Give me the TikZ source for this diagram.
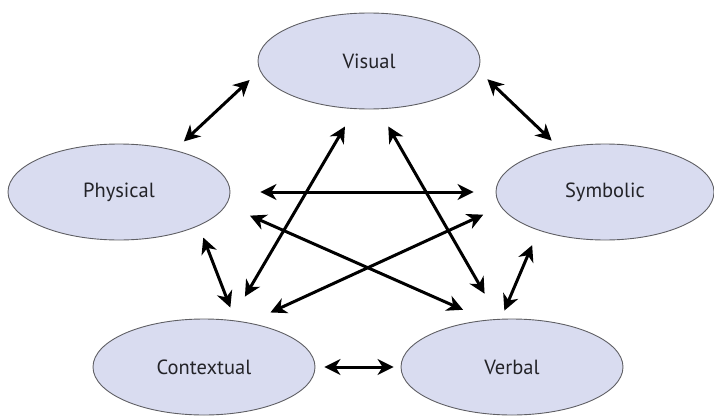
\documentclass[tikz,border=0pt]{standalone}
\usepackage{fontspec}
\setmainfont{PT Sans}
\usetikzlibrary{shapes.geometric, arrows.meta}
\definecolor{OvalFill}{RGB}{217,220,240}
\definecolor{OvalLine}{RGB}{95,95,100}
\definecolor{TextGray}{RGB}{35,35,40}

\begin{document}
\begin{tikzpicture}[x=1pt, y=1pt,
OvalStyle/.style={ellipse, draw=OvalLine, line width=0.9pt, fill=OvalFill,
                minimum width=222pt, minimum height=96pt, inner sep=0pt,
                text=TextGray, font=\fontsize{20.5}{24}\selectfont},
LinkStyle/.style={line width=3pt,
                {Stealth[length=16pt, width=16pt, inset=5pt]}-{Stealth[length=16pt, width=16pt, inset=5pt]}},]
\useasboundingbox (0,0) rectangle (714,416);
\node [OvalStyle] (vis) at (369,355) {Visual};
\node [OvalStyle] (phy) at (119,224) {Physical};
\node [OvalStyle, minimum width=218pt] (sym) at (605,224) {Symbolic};
\node [OvalStyle] (con) at (204,49) {Contextual};
\node [OvalStyle] (ver) at (512,49) {Verbal};
\draw [LinkStyle, shorten <=13.9pt, shorten >=12.6pt] (vis.185) -- (phy.37);
\draw [LinkStyle, shorten <=12.6pt, shorten >=10.6pt] (vis.355) -- (sym.136);
\draw [LinkStyle, shorten <=12.6pt, shorten >=13.9pt] (phy.337) -- (con.56);
\draw [LinkStyle, shorten <=16pt, shorten >=8.9pt] (sym.210) -- (ver.103);
\draw [LinkStyle, shorten <=9pt, shorten >=7pt] (con.east) -- (ver.west);
\draw [LinkStyle, shorten <=30pt, shorten >=22pt] (phy.east) -- (sym.west);
\draw [LinkStyle, shorten <=20.2pt, shorten >=27.2pt] (vis.254) -- (con.60);
\draw [LinkStyle, shorten <=19.8pt, shorten >=29.1pt] (vis.281) -- (ver.105);
\draw [LinkStyle, shorten <=25.9pt, shorten >=25pt] (phy.353) -- (ver.119);
\draw [LinkStyle, shorten <=19.2pt, shorten >=24.2pt] (sym.188) -- (con.45);
\end{tikzpicture}
\end{document}
